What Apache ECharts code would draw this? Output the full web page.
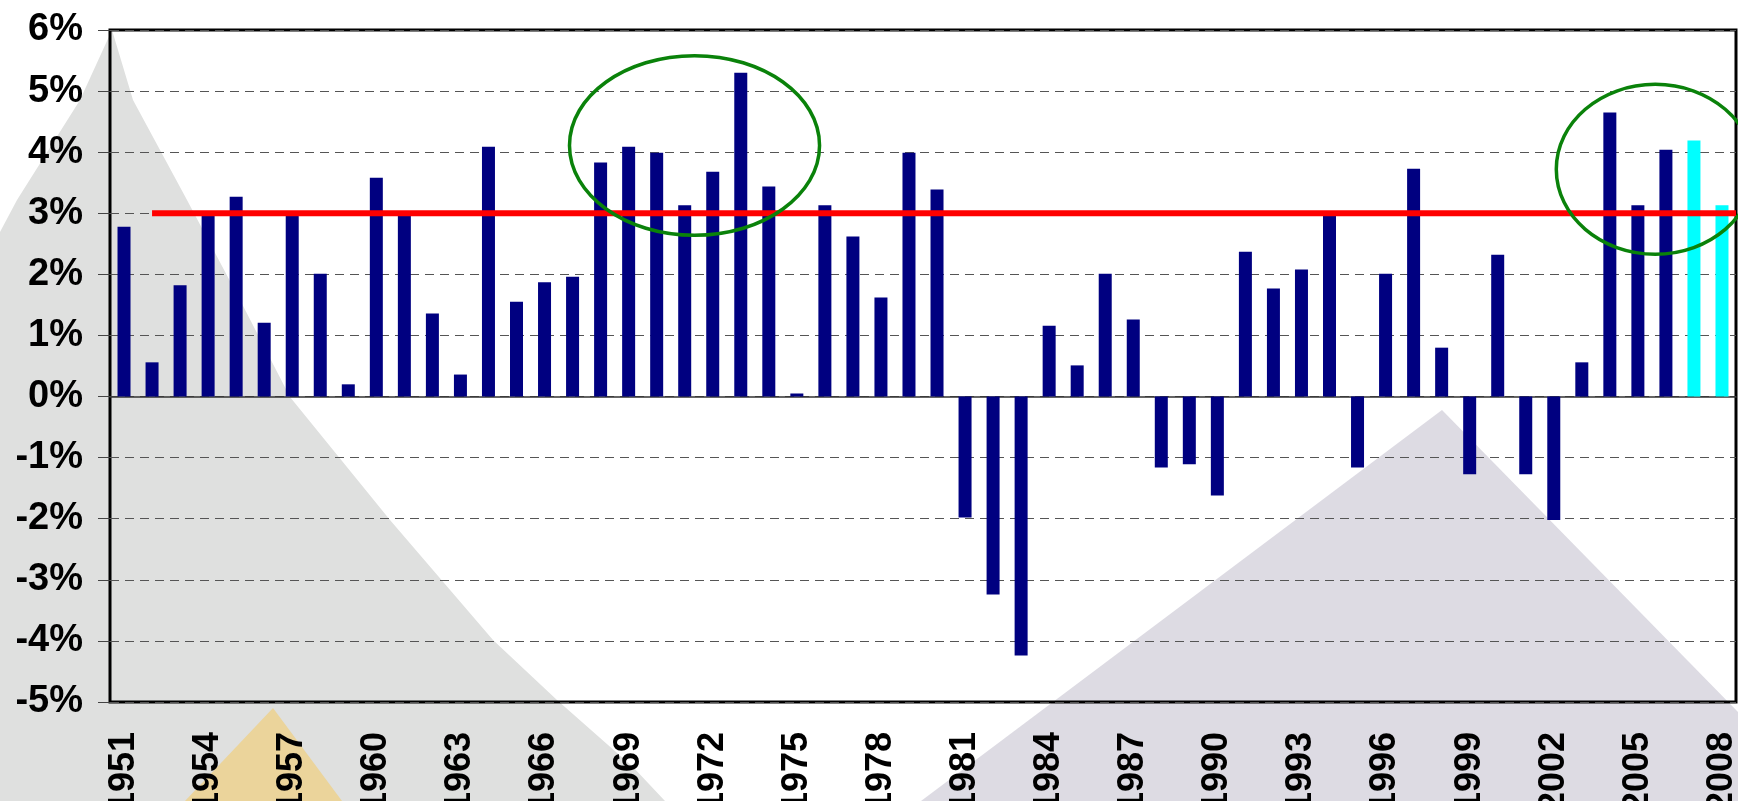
<!DOCTYPE html>
<html>
<head>
<meta charset="utf-8">
<title>Growth 1951-2008</title>
<script src="https://cdn.jsdelivr.net/npm/echarts@6/dist/echarts.min.js"></script>
<style>
  html, body { margin: 0; padding: 0; background: #fff; }
  #chart { width: 1738px; height: 801px; }
</style>
</head>
<body>
<div id="chart"></div>
<script>
// data
const years = ['1951','1952','1953','1954','1955','1956','1957','1958','1959','1960',
  '1961','1962','1963','1964','1965','1966','1967','1968','1969','1970',
  '1971','1972','1973','1974','1975','1976','1977','1978','1979','1980',
  '1981','1982','1983','1984','1985','1986','1987','1988','1989','1990',
  '1991','1992','1993','1994','1995','1996','1997','1998','1999','2000',
  '2001','2002','2003','2004','2005','2006','2007','2008']
const growth = [2.78, 0.56, 1.82, 3.0, 3.27, 1.21, 3.02, 2.01, 0.2, 3.58,
  3.0, 1.36, 0.36, 4.09, 1.55, 1.87, 1.96, 3.83, 4.09, 3.99,
  3.13, 3.68, 5.3, 3.44, 0.05, 3.13, 2.62, 1.62, 3.99, 3.39,
  -1.98, -3.24, -4.24, 1.16, 0.51, 2.01, 1.26, -1.16, -1.11, -1.62,
  2.37, 1.77, 2.08, 3.0, -1.16, 2.01, 3.73, 0.8, -1.27, 2.32,
  -1.27, -2.02, 0.56, 4.65, 3.13, 4.04, 4.19, 3.13]
const forecastYears = ['2007', '2008']
const targetRate = 3
const targetFrom = '1952'
const yMin = -5, yMax = 6, yStep = 1

// circled periods, in axis units (category slots, percent)
const circles = [
  {cx: 20.85, cy: 4.11, rx: 4.46, ry: 1.47},
  {cx: 55.12, cy: 3.72, rx: 3.53, ry: 1.39}
]

const FONT = "'Liberation Sans', Arial, Helvetica, sans-serif"

// slide background decoration
const backdrop = [
  {type: 'polygon', z: -100, silent: true,
    shape: {points: [[112,30],[80,100],[17,200],[0,232],[0,801],[665,801],[633,767],[557,700],[493,640],[390,520],[290,397],[240,300],[187,200],[133,100]]},
    style: {fill: '#dfe0df'}},
  {type: 'polygon', z: -100, silent: true,
    shape: {points: [[1442,410],[921,801],[1738,801],[1738,712]]},
    style: {fill: '#dddbe3'}},
  {type: 'polygon', z: -99, silent: true,
    shape: {points: [[273,708],[185,801],[342,801]]},
    style: {fill: '#ebd49b'}}
]

let chart = echarts.init(document.getElementById('chart'))

chart.setOption({
  animation: false,
  grid: {
    left: 110, right: 2, top: 30, bottom: 99,
    outerBoundsMode: 'none',
    containLabel: false,
    show: true, borderColor: '#000', borderWidth: 3,
    backgroundColor: 'transparent'
  },
  xAxis: [
    {
      type: 'category',
      data: years,
      axisLine: {onZero: true, lineStyle: {color: '#333', width: 1.5}},
      axisTick: {interval: 0, length: 9, lineStyle: {color: '#333'}},
      axisLabel: {show: false},
      splitLine: {show: false}
    },
    {
      type: 'category',
      data: years,
      position: 'bottom',
      axisLine: {show: false, onZero: false},
      axisTick: {show: false},
      axisLabel: {
        interval: 2, rotate: 90, margin: 30,
        fontSize: 36, fontWeight: 'bold', color: '#000', fontFamily: FONT
      }
    },
    {
      type: 'value', show: false,
      min: 0, max: years.length
    }
  ],
  yAxis: {
    type: 'value',
    min: yMin, max: yMax, interval: yStep,
    axisLine: {show: false},
    axisTick: {show: true, length: 12, lineStyle: {color: '#444'}},
    axisLabel: {
      formatter: '{value}%', margin: 27,
      fontSize: 38, fontWeight: 'bold', color: '#000', fontFamily: FONT
    },
    splitLine: {lineStyle: {type: [9, 6], color: '#555', width: 1.2}}
  },
  series: [
    {
      type: 'bar',
      xAxisIndex: 0,
      barWidth: 13,
      data: growth.map((v, i) => ({
        value: v,
        itemStyle: {color: forecastYears.includes(years[i]) ? '#00ffff' : '#000080'}
      }))
    },
    {
      type: 'line',
      xAxisIndex: 2,
      showSymbol: false,
      silent: true,
      lineStyle: {color: '#ff0000', width: 6},
      data: [[years.indexOf(targetFrom) + 0.5, targetRate], [years.length, targetRate]]
    }
  ]
})

// ellipses placed through the axes
let rings = circles.map(c => {
  let p = chart.convertToPixel({xAxisIndex: 2, yAxisIndex: 0}, [c.cx, c.cy])
  let q = chart.convertToPixel({xAxisIndex: 2, yAxisIndex: 0}, [c.cx + c.rx, c.cy + c.ry])
  return {
    type: 'ellipse', z: 100, silent: true,
    shape: {cx: p[0], cy: p[1], rx: q[0] - p[0], ry: p[1] - q[1]},
    style: {fill: 'none', stroke: '#0a820a', lineWidth: 3.5}
  }
})

chart.setOption({graphic: {elements: backdrop.concat(rings)}})
</script>
</body>
</html>
